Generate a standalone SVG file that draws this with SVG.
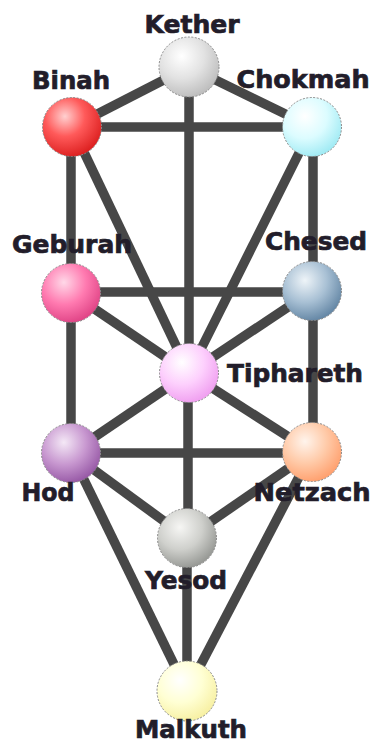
<svg xmlns="http://www.w3.org/2000/svg" width="373" height="745" viewBox="0 0 373 745">
<style>
.e{stroke:#474747;stroke-width:9.5;stroke-linecap:butt;fill:none}
.n{stroke:#8a8a8a;stroke-width:1;stroke-dasharray:2 1.5}
.t{font-family:"DejaVu Sans",Verdana,sans-serif;font-weight:bold;font-size:24px;fill:#221d2a;stroke:#221d2a;stroke-width:0.7;text-anchor:middle}
</style>
<defs>
<radialGradient id="gK" cx="0.38" cy="0.32" r="0.75"><stop offset="0" stop-color="#ffffff"/><stop offset="0.5" stop-color="#e2e2e2"/><stop offset="1" stop-color="#b8b8b8"/></radialGradient>
<radialGradient id="gB" cx="0.38" cy="0.32" r="0.75"><stop offset="0" stop-color="#ffd0d0"/><stop offset="0.45" stop-color="#ff5a5a"/><stop offset="1" stop-color="#d81818"/></radialGradient>
<radialGradient id="gC" cx="0.38" cy="0.32" r="0.75"><stop offset="0" stop-color="#ffffff"/><stop offset="0.5" stop-color="#dcfcff"/><stop offset="1" stop-color="#98e8f2"/></radialGradient>
<radialGradient id="gG" cx="0.38" cy="0.32" r="0.75"><stop offset="0" stop-color="#ffd8e8"/><stop offset="0.5" stop-color="#ff7ab0"/><stop offset="1" stop-color="#dc3c80"/></radialGradient>
<radialGradient id="gH" cx="0.38" cy="0.32" r="0.75"><stop offset="0" stop-color="#eef4f8"/><stop offset="0.5" stop-color="#a8c0d4"/><stop offset="1" stop-color="#5a7e9e"/></radialGradient>
<radialGradient id="gT" cx="0.38" cy="0.32" r="0.75"><stop offset="0" stop-color="#ffffff"/><stop offset="0.5" stop-color="#fdd0fd"/><stop offset="1" stop-color="#ee98ee"/></radialGradient>
<radialGradient id="gO" cx="0.38" cy="0.32" r="0.75"><stop offset="0" stop-color="#f4e8f6"/><stop offset="0.5" stop-color="#c898d0"/><stop offset="1" stop-color="#9050a0"/></radialGradient>
<radialGradient id="gN" cx="0.38" cy="0.32" r="0.75"><stop offset="0" stop-color="#fff4ec"/><stop offset="0.5" stop-color="#ffcaa8"/><stop offset="1" stop-color="#ff9a66"/></radialGradient>
<radialGradient id="gY" cx="0.38" cy="0.32" r="0.75"><stop offset="0" stop-color="#f6f6f4"/><stop offset="0.5" stop-color="#cfd0cc"/><stop offset="1" stop-color="#8e908c"/></radialGradient>
<radialGradient id="gM" cx="0.38" cy="0.32" r="0.75"><stop offset="0" stop-color="#ffffff"/><stop offset="0.5" stop-color="#ffffd4"/><stop offset="1" stop-color="#f6ee9c"/></radialGradient>
</defs>
<g id="connectors">
<line class="e" x1="189" y1="67" x2="72" y2="127"/>
<line class="e" x1="189" y1="67" x2="312" y2="127"/>
<line class="e" x1="189" y1="67" x2="189" y2="373"/>
<line class="e" x1="72" y1="127" x2="312" y2="127"/>
<line class="e" x1="71" y1="127" x2="71" y2="293"/>
<line class="e" x1="72" y1="127" x2="189" y2="373"/>
<line class="e" x1="313" y1="127" x2="313" y2="291"/>
<line class="e" x1="312" y1="127" x2="189" y2="373"/>
<line class="e" x1="71" y1="292" x2="312" y2="292"/>
<line class="e" x1="71" y1="293" x2="189" y2="373"/>
<line class="e" x1="71" y1="293" x2="71" y2="453"/>
<line class="e" x1="312" y1="291" x2="189" y2="373"/>
<line class="e" x1="313" y1="291" x2="313" y2="452"/>
<line class="e" x1="189" y1="373" x2="71" y2="453"/>
<line class="e" x1="189" y1="373" x2="312" y2="452"/>
<line class="e" x1="188" y1="373" x2="188" y2="538"/>
<line class="e" x1="71" y1="453" x2="312" y2="453"/>
<line class="e" x1="71" y1="453" x2="187" y2="538"/>
<line class="e" x1="71" y1="453" x2="187" y2="691"/>
<line class="e" x1="312" y1="452" x2="187" y2="538"/>
<line class="e" x1="312" y1="452" x2="187" y2="691"/>
<line class="e" x1="187" y1="538" x2="187" y2="691"/>
</g>
<g id="kether"><circle class="n" cx="189" cy="67" r="30" fill="url(#gK)"/><text class="t" x="192" y="33" textLength="95" lengthAdjust="spacingAndGlyphs">Kether</text></g>
<g id="binah"><circle class="n" cx="72" cy="127" r="29.5" fill="url(#gB)"/><text class="t" x="71" y="89" textLength="78" lengthAdjust="spacingAndGlyphs">Binah</text></g>
<g id="chokmah"><circle class="n" cx="312" cy="127" r="29.5" fill="url(#gC)"/><text class="t" x="303" y="88" textLength="133" lengthAdjust="spacingAndGlyphs">Chokmah</text></g>
<g id="geburah"><circle class="n" cx="71" cy="293" r="29.5" fill="url(#gG)"/><text class="t" x="72" y="253" textLength="120" lengthAdjust="spacingAndGlyphs">Geburah</text></g>
<g id="chesed"><circle class="n" cx="312" cy="291" r="29.5" fill="url(#gH)"/><text class="t" x="316" y="250" textLength="102" lengthAdjust="spacingAndGlyphs">Chesed</text></g>
<g id="tiphareth"><circle class="n" cx="189" cy="373" r="29.5" fill="url(#gT)"/><text class="t" x="295" y="382" textLength="136" lengthAdjust="spacingAndGlyphs">Tiphareth</text></g>
<g id="hod"><circle class="n" cx="71" cy="453" r="29.5" fill="url(#gO)"/><text class="t" x="48" y="501" textLength="53" lengthAdjust="spacingAndGlyphs">Hod</text></g>
<g id="netzach"><circle class="n" cx="312" cy="452" r="29.5" fill="url(#gN)"/><text class="t" x="312" y="501" textLength="117" lengthAdjust="spacingAndGlyphs">Netzach</text></g>
<g id="yesod"><circle class="n" cx="187" cy="538" r="29.5" fill="url(#gY)"/><text class="t" x="186" y="589" textLength="82" lengthAdjust="spacingAndGlyphs">Yesod</text></g>
<g id="malkuth"><circle class="n" cx="187" cy="691" r="30" fill="url(#gM)"/><text class="t" x="191" y="738" font-size="23" textLength="112" lengthAdjust="spacingAndGlyphs">Malkuth</text></g>
</svg>
